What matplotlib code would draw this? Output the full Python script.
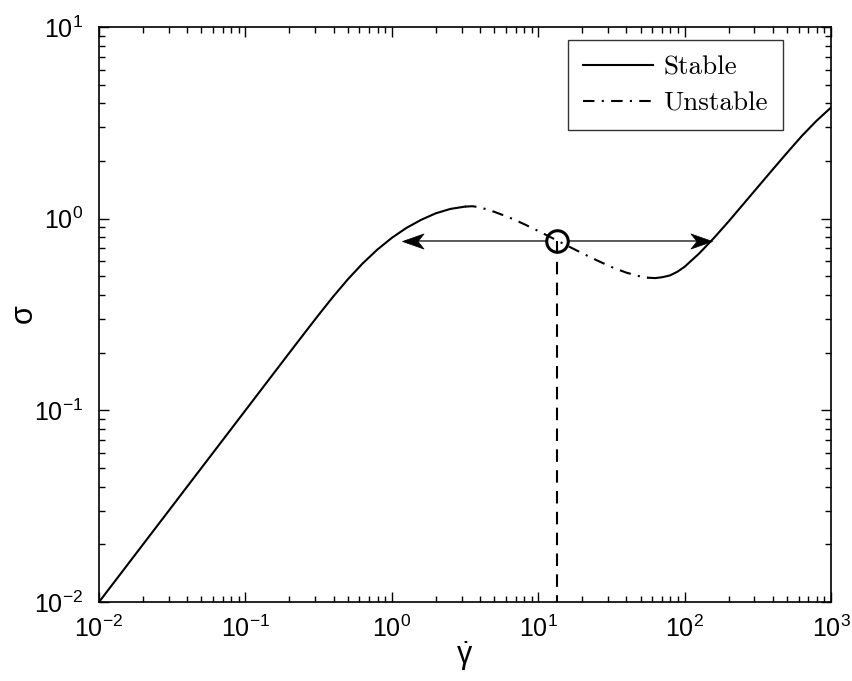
import numpy as np
import matplotlib.pyplot as plt
from matplotlib.path import Path

plt.rcParams.update({
    "font.family": "Liberation Sans",
    "mathtext.fontset": "custom",
    "mathtext.rm": "Liberation Sans",
    "mathtext.it": "Liberation Sans:italic",
    "mathtext.default": "regular",
    "xtick.labelsize": 18,
    "ytick.labelsize": 18,
})

# Flow curve, left stable branch
stable_lo_x = [0.01, 0.1, 0.1995, 0.2512, 0.3162, 0.3981, 0.5012, 0.6310, 0.7943,
               1.0, 1.259, 1.585, 1.995, 2.512, 3.162]
stable_lo_y = [0.01, 0.1, 0.1995, 0.2509, 0.3148, 0.3926, 0.4831, 0.5834, 0.6887,
               0.7943, 0.8954, 0.9863, 1.0666, 1.1246, 1.1561]

# unstable (decreasing) branch
unstable_x = [3.162, 3.548, 3.981, 5.012, 6.310, 7.943, 10, 12.59, 15.85, 19.95,
              25.12, 31.62, 39.81, 50.12, 56.23]
unstable_y = [1.1561, 1.1614, 1.1482, 1.0864, 1.0162, 0.9397, 0.8630, 0.7898,
              0.7219, 0.6607, 0.6067, 0.5598, 0.5236, 0.4989, 0.4920]

# right stable branch
stable_hi_x = [56.23, 63.10, 70.79, 79.43, 89.13, 100, 125.9, 158.5, 199.5, 251.2,
               316.2, 398.1, 501.2, 631.0, 794.3, 1000]
stable_hi_y = [0.4920, 0.4898, 0.4955, 0.5058, 0.5284, 0.5610, 0.6592, 0.7925,
               0.9661, 1.1885, 1.4622, 1.7989, 2.2080, 2.6977, 3.2359, 3.8019]

# imposed point and the two banded states it splits into
q_x, q_y = 13.5, 0.765
band_lo_x, band_hi_x = 1.17, 153

xlim = (1e-2, 1e3)
ylim = (1e-2, 1e1)

fig = plt.figure(figsize=(8.53, 6.81), dpi=100)
ax = fig.add_axes([0.1161, 0.1160, 0.8581, 0.8443])

lw = 1.5
ax.loglog(stable_lo_x, stable_lo_y, color="k", lw=lw, label="Stable")
ax.loglog(unstable_x, unstable_y, color="k", lw=lw, ls=(0, (5.5, 3.5, 1, 3.5)),
          label="Unstable")
ax.loglog(stable_hi_x, stable_hi_y, color="k", lw=lw)

# vertical guide from the imposed rate
ax.plot([q_x, q_x], [q_y, ylim[0]], color="k", lw=lw, ls=(0, (6, 4)))
ax.plot([q_x], [q_y], "o", mfc="none", mec="k", ms=15.5, mew=2.2, zorder=5)

# arrows to the two stable branches
head_right = Path([(0, 0), (-1, 0.35), (-0.72, 0), (-1, -0.35), (0, 0)],
                  [Path.MOVETO, Path.LINETO, Path.LINETO, Path.LINETO, Path.CLOSEPOLY])
head_left = Path([(0, 0), (1, 0.35), (0.72, 0), (1, -0.35), (0, 0)],
                 [Path.MOVETO, Path.LINETO, Path.LINETO, Path.LINETO, Path.CLOSEPOLY])
for xe, head in ((band_lo_x, head_left), (band_hi_x, head_right)):
    ax.annotate("", xy=(xe, q_y), xytext=(q_x, q_y),
                arrowprops=dict(arrowstyle="-", color="k", lw=0.9,
                                shrinkA=8, shrinkB=3))
    ax.plot([xe], [q_y], marker=head, ms=31, color="k", mec="k", mew=0.5,
            linestyle="none")

ax.set_xlim(*xlim)
ax.set_ylim(*ylim)

ax.tick_params(which="both", direction="in", top=True, right=True, width=1)
ax.tick_params(which="major", length=7)
ax.tick_params(axis="x", which="major", pad=10)
ax.tick_params(axis="y", which="major", pad=11.5)
ax.tick_params(which="minor", length=4)
for s in ax.spines.values():
    s.set_linewidth(1.2)

ax.set_xlabel(r"$\dot{\gamma}$", fontsize=22)
ax.set_ylabel(r"$\sigma$", fontsize=22)
ax.xaxis.set_label_coords(0.5, -0.064)
ax.yaxis.set_label_coords(-0.08, 0.5)

leg = ax.legend(loc="upper right", bbox_to_anchor=(0.934, 0.977), borderaxespad=0,
                prop={"family": "cmr10", "size": 19.5}, frameon=True, fancybox=False,
                edgecolor="k", handlelength=2.58, handletextpad=0.37,
                labelspacing=0.45, borderpad=0.55)
leg.get_frame().set_linewidth(1.0)

fig.savefig("out.png", dpi=100)
